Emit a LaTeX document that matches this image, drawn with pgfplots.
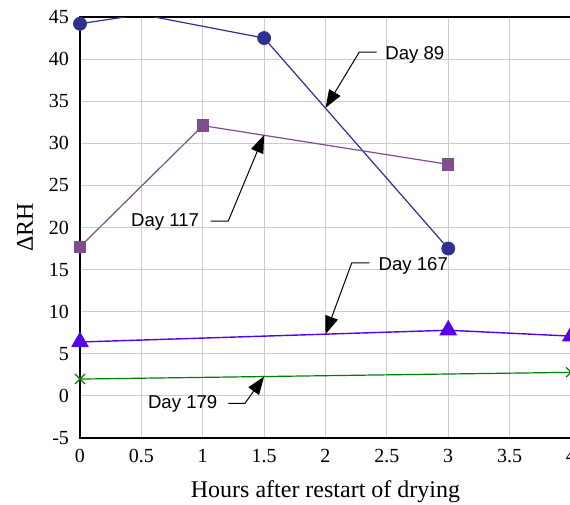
\documentclass[border=0pt]{standalone}
\usepackage{fontspec}
\setmainfont{Liberation Serif}
\newfontfamily\arial{Liberation Sans}
\usepackage{pgfplots}
\pgfplotsset{compat=1.18}
\usetikzlibrary{arrows.meta}

\definecolor{d89}{HTML}{2E3192}
\definecolor{d117}{HTML}{7E4E8E}
\definecolor{d167}{HTML}{5500EE}
\definecolor{d179}{HTML}{008000}

\tikzset{
  callout/.style={draw=black, line width=0.5pt, -{Triangle[length=9pt,width=6.5pt]}},
  calltext/.style={font=\arial\fontsize{9.3}{11}\selectfont, anchor=base west, inner sep=0pt},
}

\begin{document}
\begin{tikzpicture}
\begin{axis}[
  at={(0,0)}, anchor=south west,
  scale only axis, width=245.5pt, height=210.5pt,
  xmin=0, xmax=4, ymin=-5, ymax=45,
  xtick={0,0.5,1,1.5,2,2.5,3,3.5,4},
  ytick={-5,0,5,10,15,20,25,30,35,40,45},
  grid=major, major grid style={draw=black!20, line width=0.5pt},
  axis line style={line width=1pt},
  major tick length=0pt,
  ticklabel style={font=\fontsize{10}{12}\selectfont},
  /pgf/number format/assume math mode=true,
  xticklabel style={yshift=-2pt},
  yticklabel style={xshift=-2pt},
  xlabel={Hours after restart of drying},
  ylabel={ΔRH},
  every axis x label/.style={at={(axis description cs:0.5,0)}, anchor=center, yshift=-27pt,
    font=\fontsize{12}{14}\selectfont},
  every axis y label/.style={at={(axis description cs:0,0.5)}, xshift=-27.5pt, rotate=90, anchor=center,
    font=\fontsize{12}{14}\selectfont},
]
% Day 89 (point at 0.5 runs off the top, no marker there)
\addplot[d89, line width=0.6pt, no marks, forget plot]
  coordinates {(0,44.2)(0.5,45.3)(1.5,42.5)(3,17.5)};
\addplot[d89, only marks, mark=*, mark size=3.25pt]
  coordinates {(0,44.2)(1.5,42.5)(3,17.5)};
% Day 117
\addplot[d117, line width=0.6pt, mark=square*, mark size=2.8pt]
  coordinates {(0,17.7)(1,32.1)(3,27.5)};
% Day 167
\addplot[d167, line width=0.7pt, mark=triangle*, mark size=4.5pt]
  coordinates {(0,6.4)(3,7.8)(4,7.1)};
% Day 179
\addplot[d179, line width=0.6pt, mark=x, mark size=3.5pt]
  coordinates {(0,2.0)(4,2.8)};

\draw[callout] (axis cs:2.417,40.83) -- (axis cs:2.275,40.83) -- (axis cs:2,34.2);
\node[calltext] at (axis cs:2.485,39.9) {Day 89};
\draw[callout] (axis cs:1.065,20.77) -- (axis cs:1.208,20.77) -- (axis cs:1.5,31.0);
\node[calltext] at (axis cs:0.413,20.07) {Day 117};
\draw[callout] (axis cs:2.357,15.8) -- (axis cs:2.214,15.8) -- (axis cs:2,7.33);
\node[calltext] at (axis cs:2.43,14.93) {Day 167};
\draw[callout] (axis cs:1.208,-0.88) -- (axis cs:1.344,-0.88) -- (axis cs:1.5,2.3);
\node[calltext] at (axis cs:0.551,-1.55) {Day 179};
\end{axis}
\pgfresetboundingbox
\path[use as bounding box] (-40pt,-33.5pt) rectangle (245pt,219pt);
\end{tikzpicture}
\end{document}
